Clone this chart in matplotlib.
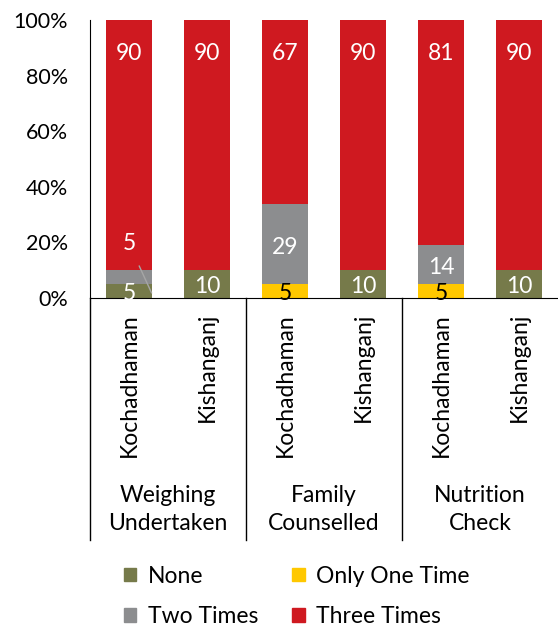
import matplotlib
matplotlib.use('Agg')
import matplotlib.pyplot as plt
from matplotlib.patches import Patch
from matplotlib.ticker import FuncFormatter
import numpy as np

plt.rcParams['font.family'] = ['Lato', 'DejaVu Sans']

# Данные: два района в каждой группе
groups = ['Weighing\nUndertaken', 'Family\nCounselled', 'Nutrition\nCheck']
districts = ['Kochadhaman', 'Kishanganj']

none = [5, 10, 0, 10, 0, 10]
only_one = [0, 0, 5, 0, 5, 0]
two_times = [5, 0, 29, 0, 14, 0]
three_times = [90, 90, 67, 90, 81, 90]

series = [
    ('None', none, '#767A4A', 'white'),
    ('Only One Time', only_one, '#FFC800', 'black'),
    ('Two Times', two_times, '#8C8D8F', 'white'),
    ('Three Times', three_times, '#CF1920', 'white'),
]

fig = plt.figure(figsize=(5.58, 6.30), dpi=100)
ax = fig.add_axes([90 / 558, 1 - 298 / 630, 468 / 558, 278 / 630])

x = np.arange(len(none))
totals = np.sum([s[1] for s in series], axis=0)
bottom = np.zeros(len(x))
fs = 16.5

for name, vals, color, tcolor in series:
    vals = np.array(vals, dtype=float)
    h = vals / totals * 100
    ax.bar(x, h, bottom=bottom, width=0.58, color=color, label=name)
    for i in range(len(x)):
        if vals[i] == 0:
            continue
        if name == 'Three Times':
            # подписи красных сегментов у верхнего края
            ax.annotate(f'{vals[i]:.0f}', (x[i], bottom[i] + h[i]),
                        xytext=(0, -33), textcoords='offset pixels',
                        ha='center', va='center', color=tcolor, fontsize=fs)
        elif name == 'Two Times' and i == 0:
            # маленький сегмент - выносная подпись
            ax.annotate(f'{vals[i]:.0f}', xy=(0.29, 1.8), xytext=(0, 19.5),
                        ha='center', va='center', color=tcolor, fontsize=fs,
                        arrowprops=dict(arrowstyle='-', color='#A6A6A6', lw=1,
                                        shrinkA=7, shrinkB=0))
        else:
            ax.text(x[i], bottom[i] + h[i] / 2 - 1, f'{vals[i]:.0f}',
                    ha='center', va='center', color=tcolor, fontsize=fs)
    bottom += h

ax.set_xlim(-0.5, 5.5)
ax.set_ylim(0, 100)
ax.set_yticks(range(0, 101, 20))
ax.yaxis.set_major_formatter(FuncFormatter(lambda v, p: f'{v:.0f}%'))
ax.tick_params(axis='y', length=0, pad=16, labelsize=15.5)
ax.set_xticks([])
for side in ['top', 'right']:
    ax.spines[side].set_visible(False)
ax.spines['left'].set_color('black')
ax.spines['bottom'].set_color('black')

# Двухуровневая ось категорий
trans = ax.get_xaxis_transform()
line_bottom = -0.87
for xs in [-0.5, 1.5, 3.5]:
    ax.plot([xs, xs], [0, line_bottom], transform=trans, color='black',
            lw=1, clip_on=False)
for i in x:
    ax.text(i, -0.054, districts[i % 2], transform=trans, rotation=90,
            ha='center', va='top', fontsize=fs)
for g, name in enumerate(groups):
    ax.text(2 * g + 0.5, -0.76, name, transform=trans, ha='center',
            va='center', fontsize=fs, linespacing=1.4)

# Легенда
handles = [Patch(color=series[0][2], label='None'),
           Patch(color=series[2][2], label='Two Times'),
           Patch(color=series[1][2], label='Only One Time'),
           Patch(color=series[3][2], label='Three Times')]
fig.legend(handles=handles, loc='upper left', bbox_to_anchor=(103 / 558, 1 - 545 / 630),
           ncol=2, frameon=False, fontsize=fs, handlelength=0.55, handleheight=0.55,
           handletextpad=0.5, columnspacing=1.5, labelspacing=0.85)

plt.savefig('out.png', dpi=100)
plt.close()
